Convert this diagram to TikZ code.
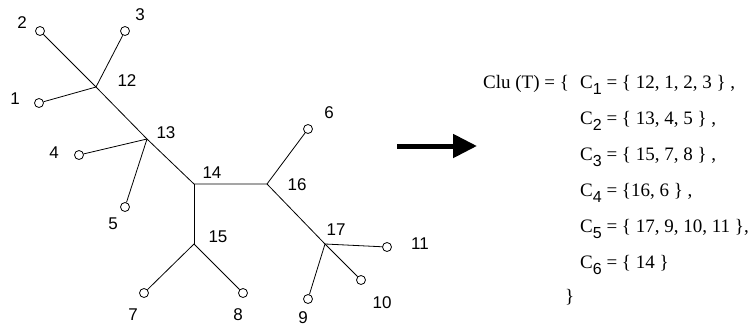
\documentclass[tikz,border=0pt]{standalone}
\usepackage{fontspec}
\setmainfont{Liberation Serif}
\newfontfamily\arialfont{Liberation Sans}
\usetikzlibrary{arrows.meta}
% subscript index set in the sans face, lowered below the baseline
\newcommand\csub[1]{\raisebox{-6pt}{\arialfont\fontsize{16}{16}\selectfont #1}}

\begin{document}
\begin{tikzpicture}[x=1pt,y=-1pt,
  leaf/.style={circle,draw,fill=white,inner sep=0pt,minimum size=9pt,line width=0.8pt},
  edge/.style={line width=0.8pt},
  lbl/.style={font=\arialfont\fontsize{17}{17}\selectfont,inner sep=0pt},
  txt/.style={font=\fontsize{19}{19}\selectfont,inner sep=0pt,anchor=base west},
  bigarrow/.style={line width=5pt,-{Triangle[length=24pt,width=23pt]}}]
\useasboundingbox (0,0) rectangle (755,327);

% internal vertices
\coordinate (n12) at (96,87);
\coordinate (n13) at (147,139);
\coordinate (n14) at (194,184);
\coordinate (n16) at (267,184);
\coordinate (n15) at (194,244);
\coordinate (n17) at (325,244);

% leaves
\node[leaf] (l1)  at (39,103) {};
\node[leaf] (l2)  at (40,31)  {};
\node[leaf] (l3)  at (125,31) {};
\node[leaf] (l4)  at (79,155) {};
\node[leaf] (l5)  at (125,207) {};
\node[leaf] (l6)  at (308,129) {};
\node[leaf] (l7)  at (144,293) {};
\node[leaf] (l8)  at (243,293) {};
\node[leaf] (l9)  at (308,299) {};
\node[leaf] (l10) at (361,280) {};
\node[leaf] (l11) at (387,247) {};

% edges
\draw[edge] (l2) -- (n12) -- (n13) -- (n14) -- (n16) -- (n17) -- (l10);
\draw[edge] (n12) -- (l1);
\draw[edge] (n12) -- (l3);
\draw[edge] (n13) -- (l4);
\draw[edge] (n13) -- (l5);
\draw[edge] (n14) -- (n15);
\draw[edge] (n15) -- (l7);
\draw[edge] (n15) -- (l8);
\draw[edge] (n16) -- (l6);
\draw[edge] (n17) -- (l9);
\draw[edge] (n17) -- (l11);

% vertex labels
\node[lbl] (t1)  at (15,99)   {1};
\node[lbl] (t2)  at (22,23)   {2};
\node[lbl] (t3)  at (140,15)  {3};
\node[lbl] (t4)  at (54,153)  {4};
\node[lbl] (t5)  at (113,224) {5};
\node[lbl] (t6)  at (329,113) {6};
\node[lbl] (t7)  at (133,315) {7};
\node[lbl] (t8)  at (238,315) {8};
\node[lbl] (t9)  at (303,318) {9};
\node[lbl] (t10) at (382,303) {10};
\node[lbl] (t11) at (420,244) {11};
\node[lbl] (t12) at (127,81)  {12};
\node[lbl] (t13) at (166,133) {13};
\node[lbl] (t14) at (212,173) {14};
\node[lbl] (t15) at (218,237) {15};
\node[lbl] (t16) at (297,185) {16};
\node[lbl] (t17) at (336,230) {17};

% transformation arrow
\coordinate (a0) at (397,146);
\coordinate (a1) at (477,146);
\draw[bigarrow] (a0) -- (a1);

% resulting clusters
\node[txt] (clu) at (483,88)  {Clu (T) = \{};
\node[txt] (c1)  at (580,88)  {C\csub{1} = \{ 12, 1, 2, 3 \} ,};
\node[txt] (c2)  at (580,124) {C\csub{2} = \{ 13, 4, 5 \} ,};
\node[txt] (c3)  at (580,160) {C\csub{3} = \{ 15, 7, 8 \} ,};
\node[txt] (c4)  at (580,196) {C\csub{4} = \{16, 6 \} ,};
\node[txt] (c5)  at (580,232) {C\csub{5} = \{ 17, 9, 10, 11 \},};
\node[txt] (c6)  at (580,268) {C\csub{6} = \{ 14 \}};
\node[txt] (cl)  at (565,302) {\}};
\end{tikzpicture}
\end{document}
